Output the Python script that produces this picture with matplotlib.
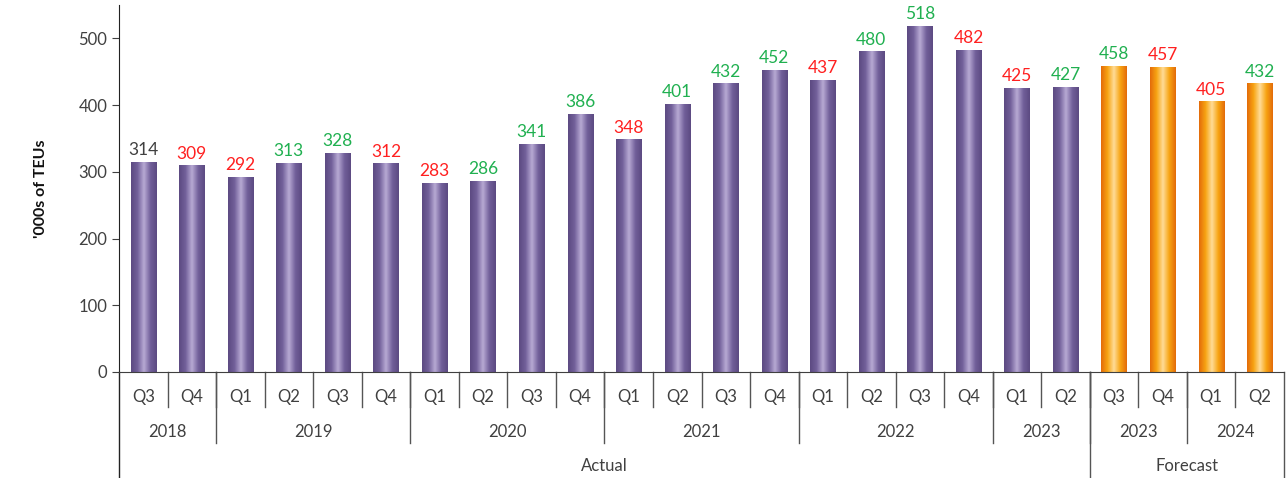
import numpy as np
import matplotlib
matplotlib.use("Agg")
import matplotlib.pyplot as plt
from matplotlib.colors import LinearSegmentedColormap
from matplotlib.transforms import blended_transform_factory

plt.rcParams["font.family"] = ["Lato", "DejaVu Sans"]

# ── data ──────────────────────────────────────────────────────────────────────
quarters = ["Q3", "Q4",
            "Q1", "Q2", "Q3", "Q4",
            "Q1", "Q2", "Q3", "Q4",
            "Q1", "Q2", "Q3", "Q4",
            "Q1", "Q2", "Q3", "Q4",
            "Q1", "Q2",
            "Q3", "Q4",
            "Q1", "Q2"]
teus = [314, 309,
        292, 313, 328, 312,
        283, 286, 341, 386,
        348, 401, 432, 452,
        437, 480, 518, 482,
        425, 427,
        458, 457,
        405, 432]
years = ["2018", "2019", "2020", "2021", "2022", "2023", "2023", "2024"]
year_sizes = [2, 4, 4, 4, 4, 2, 2, 2]
groups = ["Actual", "Forecast"]
group_sizes = [20, 4]

UP = "#20b050"
DOWN = "#ff2020"
TXT = "#404040"

purple = LinearSegmentedColormap.from_list(
    "purple", ["#5c4a82", "#72609a", "#b8aad4", "#72609a", "#5c4a82"])
orange = LinearSegmentedColormap.from_list(
    "orange", ["#e36c0a", "#f7a412", "#ffdc98", "#f7a412", "#e36c0a"])

fig = plt.figure(figsize=(12.87, 4.78), dpi=100)
ax = fig.add_axes([119 / 1287, 106 / 478, 1165 / 1287, 367 / 478])

n = len(teus)
x = np.arange(n)
width = 0.52
grad = np.linspace(0, 1, 64).reshape(1, -1)
is_forecast = np.repeat([False, True], group_sizes)

for i, v in enumerate(teus):
    cmap = orange if is_forecast[i] else purple
    ax.imshow(grad, cmap=cmap, aspect="auto",
              extent=(i - width / 2, i + width / 2, 0, v), zorder=2)
    if i == 0:
        c = TXT
    else:
        c = UP if v > teus[i - 1] else DOWN
    ax.text(i, v + 6, f"{v}", ha="center", va="bottom", fontsize=12.5, color=c)

ax.set_xlim(-0.5, n - 0.5)
ax.set_ylim(0, 550)
ax.set_yticks([0, 100, 200, 300, 400, 500])
ax.tick_params(axis="y", labelsize=12, labelcolor=TXT, color="#404040",
               length=5, direction="out")
ax.set_xticks([])
for s in ["top", "right"]:
    ax.spines[s].set_visible(False)
ax.spines["left"].set_color("#222222")
ax.spines["bottom"].set_color("#404040")
ax.set_ylabel("'000s of TEUs", fontsize=11.5, fontweight="bold", color="#111111",
              labelpad=22)

# ── multi-level category axis ────────────────────────────────────────────────
tr = blended_transform_factory(ax.transData, ax.transAxes)
line_kw = dict(transform=tr, clip_on=False, color="#555555", lw=1)
q_depth = -35 / 367
y_depth = -71 / 367
g_depth = -106 / 367

for i, q in enumerate(quarters):
    ax.text(i, -0.068, q, transform=tr, ha="center", va="center",
            fontsize=12, color=TXT)
for b in range(1, n):
    ax.plot([b - 0.5, b - 0.5], [0, q_depth], **line_kw)

start = 0
for name, size in zip(years, year_sizes):
    ax.text(start + size / 2 - 0.5, -0.163, name, transform=tr,
            ha="center", va="center", fontsize=12, color=TXT)
    start += size
    if start < n:
        ax.plot([start - 0.5, start - 0.5], [0, y_depth], **line_kw)

start = 0
for name, size in zip(groups, group_sizes):
    ax.text(start + size / 2 - 0.5, -0.256, name, transform=tr,
            ha="center", va="center", fontsize=12, color=TXT)
    start += size
    ax.plot([start - 0.5, start - 0.5], [0, g_depth], **line_kw)
ax.plot([-0.5, -0.5], [0, g_depth], transform=tr, clip_on=False,
        color="#222222", lw=1)

fig.savefig("out.png", dpi=100)
